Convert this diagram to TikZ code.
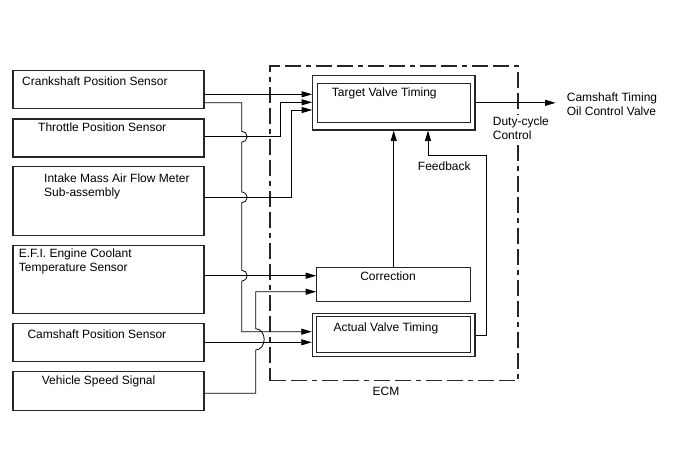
\documentclass[tikz,border=0pt]{standalone}
\usepackage{fontspec}
\setmainfont{Liberation Sans}
\usetikzlibrary{arrows.meta}

\begin{document}
\begin{tikzpicture}[line cap=butt,line join=miter,x=1pt,y=-1pt,
  box/.style={draw=black!85,line width=1.1pt,inner sep=0pt},
  ecmframe/.style={draw=black!85,line width=1.1pt,inner sep=0pt,dash pattern=on 16pt off 5pt on 16pt off 5pt on 5pt off 5pt},
  wire/.style={line width=0.8pt},
  sig/.style={line width=0.8pt,-{Triangle[length=10.5pt,width=6pt]}},
  lbl/.style={font=\fontsize{12}{14}\selectfont,inner sep=0pt,align=left,anchor=west}]
\useasboundingbox (0,0) rectangle (688,463);
\node[ecmframe,minimum width=248pt,minimum height=314.7pt] (ecm) at (394,223.35) {};
\node[box,minimum width=191pt,minimum height=37.6pt] (crank) at (108.5,89.5) {};
\node[box,minimum width=191pt,minimum height=38pt] (throttle) at (108.5,138) {};
\node[box,minimum width=191pt,minimum height=68.3pt] (maf) at (108.5,200.9) {};
\node[box,minimum width=191pt,minimum height=68.3pt] (coolant) at (108.5,279.2) {};
\node[box,minimum width=191pt,minimum height=37.7pt] (campos) at (108.5,342.3) {};
\node[box,minimum width=191pt,minimum height=38.3pt] (speed) at (108.5,390.9) {};
\node[box,minimum width=162.3pt,minimum height=54.3pt] (target) at (393.85,102.85) {};
\node[box,minimum width=153.4pt,minimum height=39pt] (target-in) at (394,102.8) {};
\node[box,minimum width=154pt,minimum height=34.4pt] (correction) at (393.7,284.5) {};
\node[box,minimum width=162.7pt,minimum height=43.4pt] (actual) at (393.65,335) {};
\node[box,minimum width=154pt,minimum height=35.6pt] (actual-in) at (393.7,334.5) {};
\node[lbl] (crank-t) at (22,81) {Crankshaft Position Sensor};
\node[lbl] (throttle-t) at (38,127.3) {Throttle Position Sensor};
\node[lbl] (maf-t) at (44,186.2) {Intake Mass Air Flow Meter\\Sub-assembly};
\node[lbl] (coolant-t) at (18.7,261.7) {E.F.I. Engine Coolant\\Temperature Sensor};
\node[lbl] (campos-t) at (27.3,334) {Camshaft Position Sensor};
\node[lbl] (speed-t) at (41.7,381.7) {Vehicle Speed Signal};
\node[lbl] (target-t) at (331.7,93.3) {Target Valve Timing};
\node[lbl,anchor=center] (correction-t) at (388,276.7) {Correction};
\node[lbl] (actual-t) at (333.3,328.3) {Actual Valve Timing};
\node[lbl,anchor=center] (feedback-t) at (444.3,166.7) {Feedback};
\node[lbl,fill=white,inner sep=2pt] (duty-t) at (490.7,128.7) {Duty-cycle\\Control};
\node[lbl] (ocv-t) at (566.7,104.2) {Camshaft Timing\\Oil Control Valve};
\node[lbl,anchor=center] (ecm-t) at (386,391.7) {ECM};
\draw[sig] (crank.east |- 0,94.3) -- (target.west |- 0,94.3);
\draw[sig] (crank.east |- 0,102.7) -- (241.7,102.7) -- (241.7,131.2)
  arc[start angle=-90,end angle=90,radius=5.5] -- (241.7,191.8)
  arc[start angle=-90,end angle=90,radius=5.5] -- (241.7,270.2)
  arc[start angle=-90,end angle=90,radius=5.5] -- (241.7,331.7) -- (actual.west |- 0,331.7);
\draw[sig] (throttle.east |- 0,136.7) -- (280.7,136.7) -- (280.7,102.3) -- (target.west |- 0,102.3);
\draw[sig] (maf.east |- 0,197.3) -- (291.7,197.3) -- (291.7,110) -- (target.west |- 0,110);
\draw[sig] (coolant.east |- 0,275.7) -- (correction.west |- 0,275.7);
\draw[sig] (speed.east |- 0,393.3) -- (255.7,393.3) -- (255.7,350)
  arc[start angle=90,end angle=-90,x radius=8.5,y radius=10.65] -- (255.7,291.7) -- (correction.west |- 0,291.7);
\draw[sig] (campos.east) -- (actual.west |- campos.east);
\draw[sig] (correction.north) -- (correction.north |- target.south);
\draw[sig] (actual.east) -- (486,335) -- (486,155) -- (428,155) -- (target.south -| 428,0);
\draw[sig] (target.east) -- ++(80,0);
\end{tikzpicture}
\end{document}
